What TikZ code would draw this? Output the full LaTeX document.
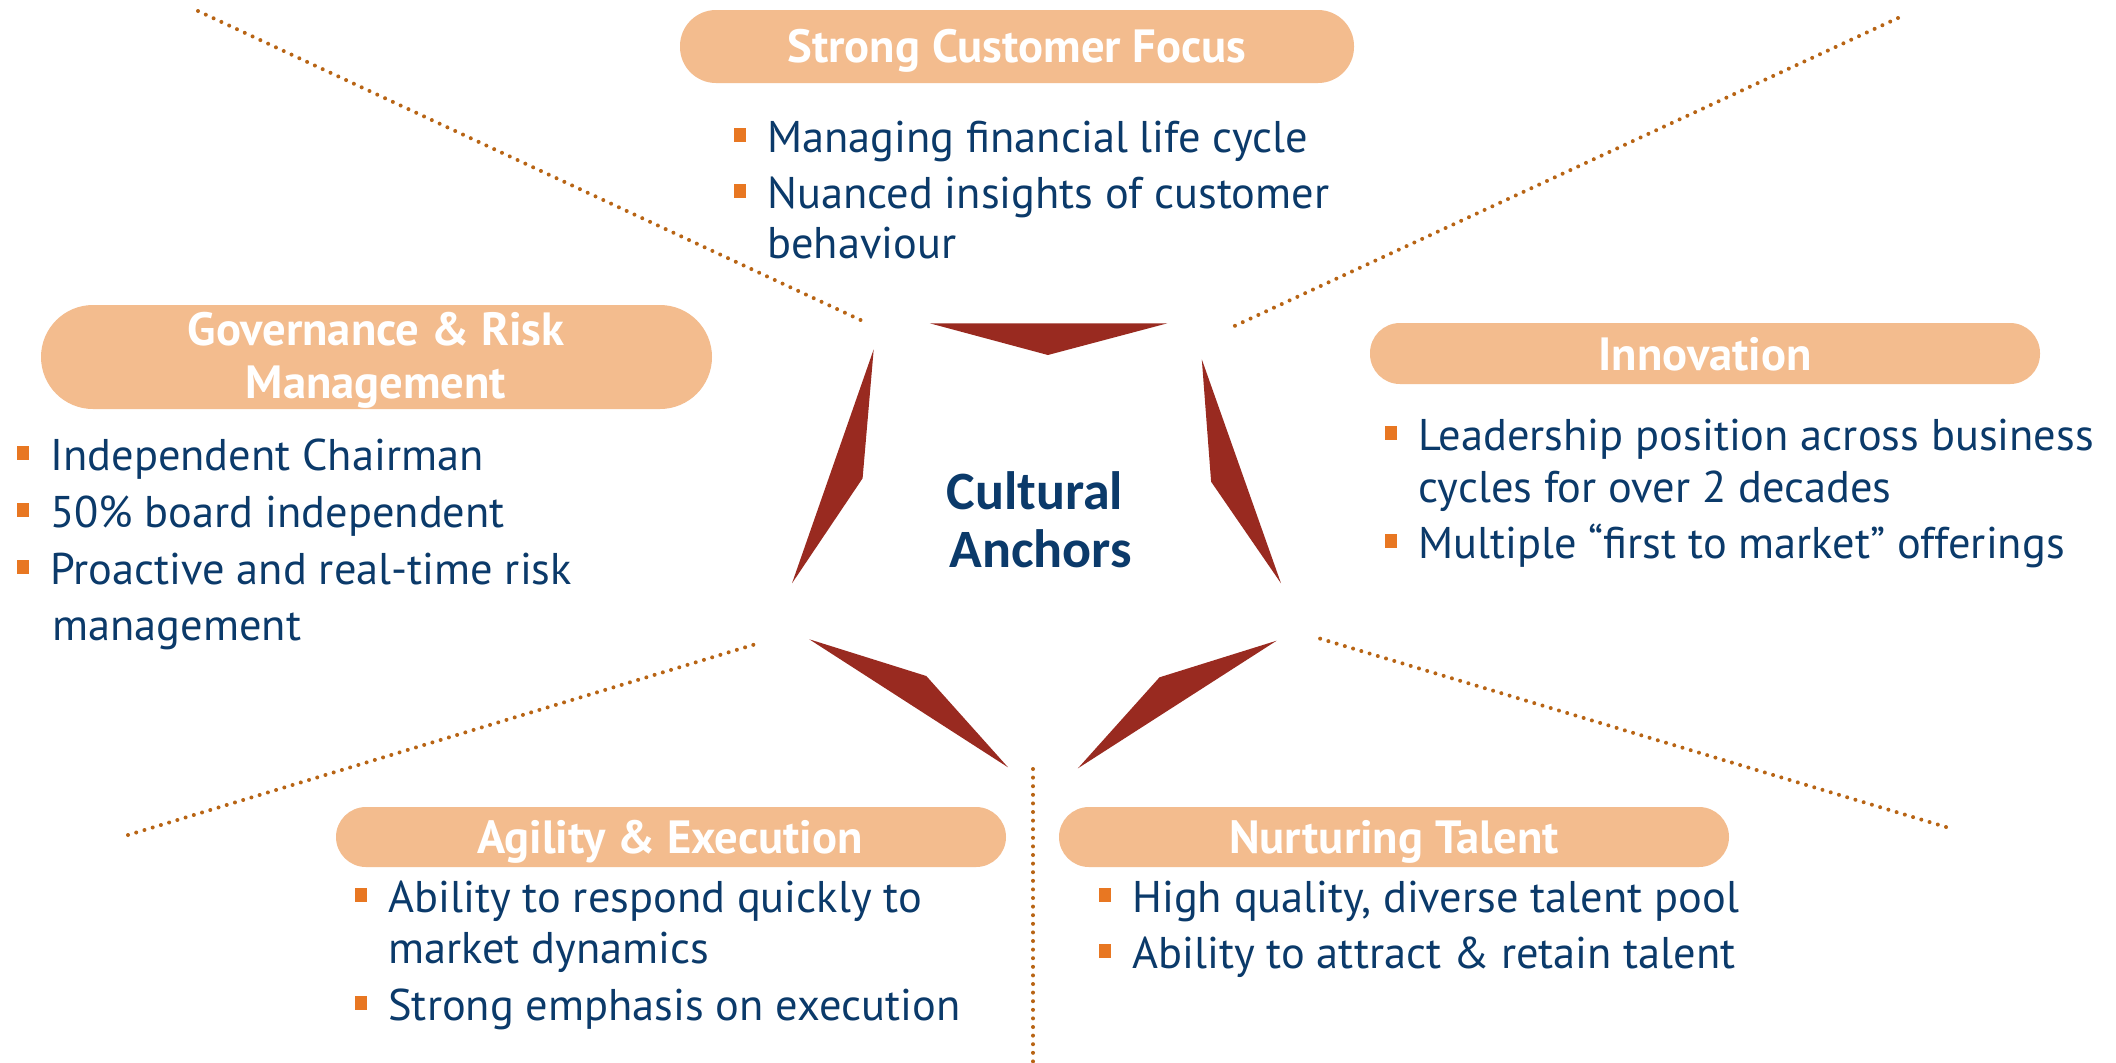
\documentclass[tikz,border=0pt]{standalone}
\usepackage{fontspec}
\setmainfont{PT Sans}
\newfontfamily\anchorfont{Carlito}
\definecolor{pillc}{RGB}{243,188,142}
\definecolor{navy}{RGB}{11,58,106}
\definecolor{bulc}{RGB}{232,119,34}
\definecolor{dotc}{RGB}{184,100,20}
\definecolor{starc}{RGB}{153,42,32}
\newcommand\bsq[2]{\fill[bulc] ({#1-33},{#2-24}) rectangle ({#1-21},{#2-10});}
\begin{document}
\begin{tikzpicture}[x=0.5pt,y=-0.5pt,
  body/.style={anchor=base west, text=navy, font=\fontsize{22.2}{26}\selectfont, inner sep=0pt},
  head/.style={anchor=base, text=white, font=\bfseries\fontsize{23.3}{28}\selectfont, inner sep=0pt},
  anch/.style={anchor=base, text=navy, font=\anchorfont\bfseries\fontsize{27}{30}\selectfont, inner sep=0pt},
  dotline/.style={draw=dotc, line width=2pt, line cap=round, dash pattern=on 0pt off 4.3pt},
  starshape/.style={fill=starc}]
\useasboundingbox (0,0) rectangle (2116,1062);
\fill[white] (0,0) rectangle (2116,1062);

% dotted lines
\coordinate (d1a) at (198,11);   \coordinate (d1b) at (867,323);
\coordinate (d2a) at (1898,18);  \coordinate (d2b) at (1228,329);
\coordinate (d3a) at (128,835);  \coordinate (d3b) at (756,644);
\coordinate (d4a) at (1946,827); \coordinate (d4b) at (1318,638);
\coordinate (d5a) at (1033,769); \coordinate (d5b) at (1033,1062);
\draw[dotline] (d1a) -- (d1b);
\draw[dotline] (d2a) -- (d2b);
\draw[dotline] (d3a) -- (d3b);
\draw[dotline] (d4a) -- (d4b);
\draw[dotline] (d5a) -- (d5b);

% star pieces
\fill[starshape] (929.8,323.3) -- (1167.4,323.3) -- (1047.9,355) -- cycle;
\fill[starshape] (873.7,349.3) -- (862.6,478.3) -- (792,583.3) -- cycle;
\fill[starshape] (1201.8,359.3) -- (1211.1,481.7) -- (1281,583.3) -- cycle;
\fill[starshape] (809.3,639.3) -- (926.3,676) -- (1008,767.3) -- cycle;
\fill[starshape] (1276.6,640.7) -- (1159.5,677.3) -- (1077.9,768.3) -- cycle;

\node[anch] (ca1) at (1034.8,509) {Cultural};
\node[anch] (ca2) at (1040.8,567) {Anchors};

% pills
\fill[pillc, rounded corners=18pt] (680,10) rectangle (1354,83);
\fill[pillc, rounded corners=26pt] (41,305) rectangle (712,409);
\fill[pillc, rounded corners=15pt] (1370,323) rectangle (2040,384);
\fill[pillc, rounded corners=15pt] (336,807) rectangle (1006,867);
\fill[pillc, rounded corners=15pt] (1059,807) rectangle (1729,867);

\node[head] (h1) at (1017,62) {Strong Customer Focus};
\node[head] (h2a) at (376,345) {Governance \& Risk};
\node[head] (h2b) at (376,398) {Management};
\node[head] (h3) at (1705,370) {Innovation};
\node[head] (h4) at (670,853) {Agility \& Execution};
\node[head] (h5) at (1394,853) {Nurturing Talent};

% top
\bsq{767}{152} \node[body] (a1) at (767,152) {Managing financial life cycle};
\bsq{767}{208} \node[body] (a2) at (767,208) {Nuanced insights of customer};
\node[body] (a2b) at (767,258) {behaviour};

% governance
\bsq{50}{470} \node[body] (b1) at (50,470) {Independent Chairman};
\bsq{50}{527} \node[body] (b2) at (50,527) {50\% board independent};
\bsq{50}{584} \node[body] (b3) at (50,584) {Proactive and real-time risk};
\node[body] (b3b) at (52,640) {management};

% innovation
\bsq{1418}{450} \node[body] (c1) at (1418,450) {Leadership position across business};
\node[body] (c1b) at (1418,502) {cycles for over 2 decades};
\bsq{1418}{558} \node[body] (c2) at (1418,558) {Multiple “first to market” offerings};

% agility
\bsq{388}{912} \node[body] (e1) at (388,912) {Ability to respond quickly to};
\node[body] (e1b) at (388,963) {market dynamics};
\bsq{388}{1020} \node[body] (e2) at (388,1020) {Strong emphasis on execution};

% nurturing
\bsq{1132}{912} \node[body] (f1) at (1132,912) {High quality, diverse talent pool};
\bsq{1132}{968} \node[body] (f2) at (1132,968) {Ability to attract \& retain talent};
\end{tikzpicture}
\end{document}
